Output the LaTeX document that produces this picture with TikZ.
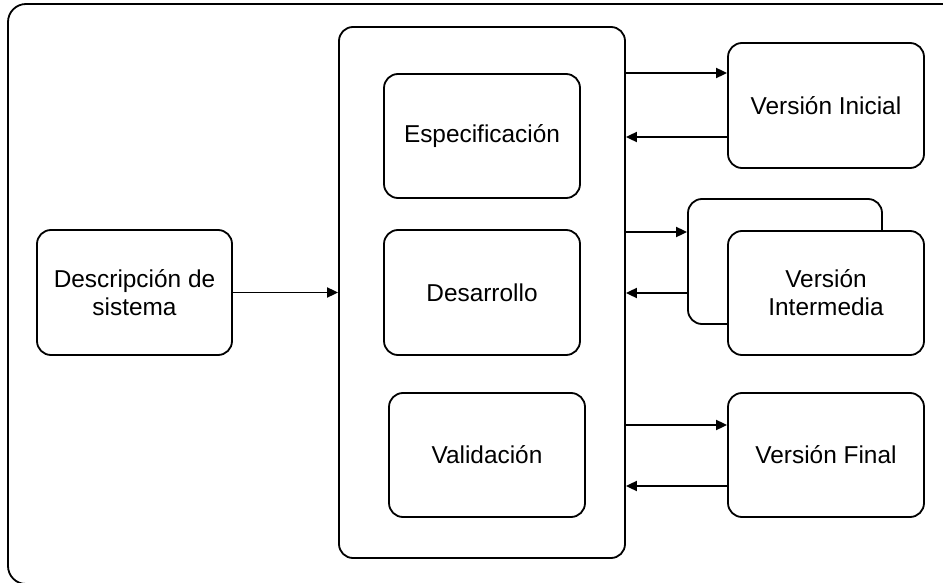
\documentclass[tikz,border=0pt]{standalone}
\usepackage{fontspec}
\setmainfont{Liberation Sans}
\usepackage{tikz}
\usetikzlibrary{
  arrows.meta,
  positioning
}

\begin{document}
\begin{tikzpicture}[
  x=0.5pt, y=-0.5pt,
  stage/.style={
    draw, line width=0.9pt, rounded corners=7pt,
    minimum width=98pt, minimum height=62pt,
    font=\fontsize{12.2}{14}\selectfont, align=center,
    inner sep=0pt
  },
  group/.style={
    draw, line width=0.9pt, rounded corners=7pt,
    minimum width=143pt, minimum height=265.5pt, inner sep=0pt
  },
  flow/.style={-{Triangle[length=5.5pt, width=5pt]}, line width=0.9pt}
]

  \useasboundingbox (0,0) rectangle (943,583);
  \clip (0,0) rectangle (943,583);

  % ── Outer frame ──
  \draw[line width=0.9pt, rounded corners=9pt] (8,4) rectangle (980,584);

  % ── Input description ──
  \node[stage, minimum width=97.5pt, minimum height=62.5pt] (desc) at (134.5,292.5)
    {Descripción de\\sistema};

  % ── Concurrent activities ──
  \node[group] (proc) at (482,292.5) {};
  \node[stage] (espec) at (482,136) {Especificación};
  \node[stage, minimum height=62.5pt] (desarr) at (482,292.5) {Desarrollo};
  \node[stage] (valid) at (487,455) {Validación};

  % ── Versions ──
  \node[stage, minimum height=62.5pt] (vini) at (826,105.5) {Versión Inicial};
  \node[stage, minimum width=97pt, minimum height=62.5pt] (vback) at (785,261.5) {};
  \node[stage, fill=white] (vint) at (826,293) {Versión\\Intermedia};
  \node[stage] (vfin) at (826,455) {Versión Final};

  % ── Input → activities ──
  \draw[flow] (desc) -- (proc);

  % ── Activities ↔ versions ──
  \coordinate (a1) at ([yshift=16.25pt]vini.west);
  \coordinate (b1) at ([yshift=-15.75pt]vini.west);
  \draw[flow] (a1 -| proc.east) -- (a1);
  \draw[flow] (b1) -- (b1 -| proc.east);

  \coordinate (a2) at ([yshift=14.75pt]vback.west);
  \coordinate (b2) at ([yshift=-15.75pt]vback.west);
  \draw[flow] (a2 -| proc.east) -- (a2);
  \draw[flow] (b2) -- (b2 -| proc.east);

  \coordinate (a3) at ([yshift=15pt]vfin.west);
  \coordinate (b3) at ([yshift=-15.5pt]vfin.west);
  \draw[flow] (a3 -| proc.east) -- (a3);
  \draw[flow] (b3) -- (b3 -| proc.east);

\end{tikzpicture}
\end{document}
